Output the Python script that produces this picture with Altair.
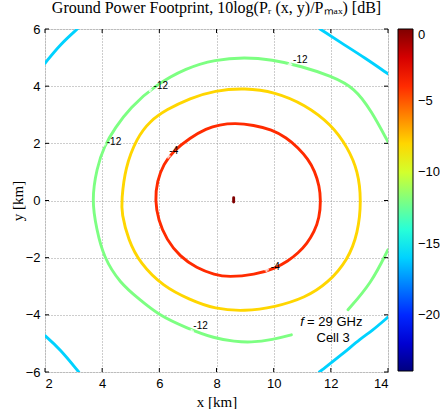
import altair as alt
import pandas as pd

# contour levels (dB)
levels = [-4, -8, -12, -16, 0]

# -4 dB contour (closed)
red_x = [5.85, 5.92, 6.15, 6.49, 7.07, 7.65, 8.10, 8.64, 9.30, 9.93, 10.45, 10.86, 11.20, 11.44, 11.60, 11.65,
         11.60, 11.42, 11.17, 10.86, 10.50, 10.04, 9.34, 8.41, 7.94, 7.30, 6.72, 6.25, 5.96]
red_y = [0.00, 0.68, 1.28, 1.73, 2.19, 2.52, 2.65, 2.71, 2.64, 2.48, 2.20, 1.84, 1.45, 1.03, 0.50, 0.00,
         -0.60, -1.10, -1.50, -1.84, -2.12, -2.38, -2.60, -2.68, -2.60, -2.36, -1.96, -1.37, -0.67]

# -8 dB contour (closed)
orange_x = [4.68, 4.80, 5.21, 5.67, 6.25, 7.07, 7.94, 8.99, 10.04, 11.09, 12.02, 12.60, 12.95, 13.07,
            12.95, 12.60, 11.90, 11.09, 10.04, 8.99, 7.94, 7.07, 6.14, 5.32, 4.91, 4.68]
orange_y = [0.00, 1.14, 2.19, 2.78, 3.18, 3.58, 3.85, 3.94, 3.80, 3.36, 2.66, 1.84, 1.03, 0.00,
            -1.14, -2.07, -2.89, -3.41, -3.73, -3.88, -3.80, -3.47, -3.01, -2.19, -1.37, -0.44]

# -12 dB contour (two visible pieces)
green_a_x = [10.62, 9.98, 9.17, 8.64, 7.94, 6.95, 5.96, 5.32, 4.62, 4.04, 3.81, 3.63, 3.81, 4.07, 4.45, 4.97,
             5.85, 6.95, 7.94, 8.99, 9.93, 10.97, 12.02, 12.84, 13.42, 14.00]
green_a_y = [-4.70, -4.87, -4.97, -4.93, -4.83, -4.46, -4.00, -3.47, -2.89, -1.96, -1.02, 0.00, 1.14, 1.90, 2.54, 3.24,
             4.03, 4.64, 4.93, 5.01, 4.93, 4.70, 4.35, 3.94, 3.13, 2.05]
green_b_x = [14.00, 13.42, 12.60]
green_b_y = [-1.72, -2.89, -3.82]

# -16 dB contour (four corner pieces)
cyan_tl_x = [2.00, 2.52, 3.13]
cyan_tl_y = [4.80, 5.45, 6.00]
cyan_tr_x = [11.62, 12.37, 13.19, 14.00]
cyan_tr_y = [6.00, 5.51, 4.99, 4.43]
cyan_bl_x = [2.00, 2.52, 3.18]
cyan_bl_y = [-4.73, -5.19, -6.00]
cyan_br_x = [11.60, 12.37, 13.07, 13.42, 14.00]
cyan_br_y = [-6.00, -5.40, -4.81, -4.58, -4.08]

# peak (0 dB) mark
peak_x = [8.60, 8.60]
peak_y = [-0.05, 0.10]

# contour labels and the points on the contours they belong to
lab_text = ["-12", "-12", "-12", "-12", "-4", "-4"]
lab_x = [5.80, 4.16, 10.68, 7.19, 9.90, 6.35]
lab_y = [4.02, 2.05, 4.91, -4.38, -2.31, 1.72]
anchor_x = [5.67, 4.04, 10.57, 7.13, 9.75, 6.31]
anchor_y = [3.88, 1.96, 4.76, -4.58, -2.42, 1.55]

# axis ticks
x_ticks = [2, 4, 6, 8, 10, 12, 14]
y_ticks = [-6, -4, -2, 0, 2, 4, 6]

closed_rows, open_rows = [], []
def add(target, seg, level, xs, ys):
    for i, (xv, yv) in enumerate(zip(xs, ys)):
        target.append(dict(seg=seg, level=level, x=xv, y=yv, i=i))

add(closed_rows, "r", levels[0], red_x, red_y)
add(closed_rows, "o", levels[1], orange_x, orange_y)
add(open_rows, "ga", levels[2], green_a_x, green_a_y)
add(open_rows, "gb", levels[2], green_b_x, green_b_y)
add(open_rows, "c1", levels[3], cyan_tl_x, cyan_tl_y)
add(open_rows, "c2", levels[3], cyan_tr_x, cyan_tr_y)
add(open_rows, "c3", levels[3], cyan_bl_x, cyan_bl_y)
add(open_rows, "c4", levels[3], cyan_br_x, cyan_br_y)
add(open_rows, "p", levels[4], peak_x, peak_y)
closed_df = pd.DataFrame(closed_rows)
open_df = pd.DataFrame(open_rows)

labels_df = pd.DataFrame(dict(t=lab_text, x=lab_x, y=lab_y))
anchors_df = pd.DataFrame(dict(x=anchor_x, y=anchor_y))
xt_df = pd.DataFrame(dict(v=x_ticks))
yt_df = pd.DataFrame(dict(v=y_ticks))

cmin = -23.9
jet_stops = [cmin, cmin + 0.125 * (-cmin), cmin + 0.375 * (-cmin), cmin + 0.625 * (-cmin), cmin + 0.875 * (-cmin), 0]
jet_colors = ["#000080", "#0000ff", "#00ffff", "#ffff00", "#ff0000", "#800000"]

xscale = alt.Scale(domain=[2, 14], nice=False, zero=False)
yscale = alt.Scale(domain=[-6, 6], nice=False, zero=False)

axis_common = dict(grid=True, gridDash=[1, 2], gridColor="#9a9a9a", gridWidth=1, ticks=False, domain=False,
                   labelFont="Liberation Sans", labelFontSize=13, labelColor="black", labelPadding=5,
                   titleFont="Liberation Serif", titleFontSize=15, titleFontWeight="normal", titleColor="black")

color_enc = alt.Color("level:Q", scale=alt.Scale(domain=jet_stops, range=jet_colors, interpolate="rgb"),
                      legend=alt.Legend(title=None, values=[0, -5, -10, -15, -20], gradientLength=342,
                                        gradientThickness=15, gradientStrokeColor="black", gradientStrokeWidth=1,
                                        labelFont="Liberation Sans", labelFontSize=13, labelColor="black",
                                        labelOffset=5, offset=10, padding=0, direction="vertical", orient="right"))

x_enc = alt.X("x:Q", scale=xscale, axis=alt.Axis(values=x_ticks, title="x [km]", titlePadding=4, **axis_common))
y_enc = alt.Y("y:Q", scale=yscale, axis=alt.Axis(values=y_ticks, title="y [km]", titlePadding=0, **axis_common))

closed_lines = alt.Chart(closed_df).mark_line(strokeWidth=2.9, interpolate="basis-closed", clip=True).encode(
    x=x_enc, y=y_enc, color=color_enc, detail="seg:N", order="i:Q")
open_lines = alt.Chart(open_df).mark_line(strokeWidth=2.9, interpolate="basis", clip=True, strokeCap="round").encode(
    x="x:Q", y="y:Q", color=color_enc, detail="seg:N", order="i:Q")

anchors = alt.Chart(anchors_df).mark_point(shape="cross", filled=True, size=22, color="white", opacity=0.75).encode(
    x="x:Q", y="y:Q")

clabels = alt.Chart(labels_df).mark_text(align="left", baseline="middle", font="Liberation Sans",
                                         fontSize=10, color="black").encode(x="x:Q", y="y:Q", text="t:N")

# inward frame ticks (MATLAB style)
tick_style = dict(color="black", strokeWidth=1)
xt_bottom = alt.Chart(xt_df).mark_rule(**tick_style).encode(x="v:Q", y=alt.value(343), y2=alt.value(339))
xt_top = alt.Chart(xt_df).mark_rule(**tick_style).encode(x="v:Q", y=alt.value(0), y2=alt.value(4))
yt_left = alt.Chart(yt_df).mark_rule(**tick_style).encode(y="v:Q", x=alt.value(0), x2=alt.value(4))
yt_right = alt.Chart(yt_df).mark_rule(**tick_style).encode(y="v:Q", x=alt.value(343), x2=alt.value(339))

note_text = ["f", "= 29 GHz", "Cell 3"]
note_x = [10.93, 11.17, 12.08]
note_y = [-4.24, -4.24, -4.81]
note_df = pd.DataFrame(dict(t=note_text, x=note_x, y=note_y))
note_f = alt.Chart(note_df.iloc[[0]]).mark_text(align="left", baseline="middle", font="Liberation Sans",
                                                 fontSize=13, fontStyle="italic", color="black").encode(
    x="x:Q", y="y:Q", text="t:N")
note_g = alt.Chart(note_df.iloc[[1]]).mark_text(align="left", baseline="middle", font="Liberation Sans",
                                                 fontSize=13, color="black").encode(x="x:Q", y="y:Q", text="t:N")
note_c = alt.Chart(note_df.iloc[[2]]).mark_text(align="center", baseline="middle", font="Liberation Sans",
                                                 fontSize=13, color="black").encode(x="x:Q", y="y:Q", text="t:N")

chart = alt.layer(closed_lines, open_lines, anchors, clabels, xt_bottom, xt_top, yt_left, yt_right,
                  note_f, note_g, note_c).properties(
    width=343, height=343,
    title=alt.TitleParams(text="Ground Power Footprint, 10log(Pᵣ (x, y)/Pₘₐₓ) [dB]", font="Liberation Serif",
                          fontSize=16, fontWeight="normal", anchor="middle", offset=7, color="black"),
    autosize=alt.AutoSizeParams(type="none"),
    padding={"left": 45, "top": 29, "right": 52, "bottom": 37},
).configure_view(stroke="black", strokeWidth=1).configure(background="white")

chart.save("out.html", embed_options={"renderer": "svg", "actions": False})
